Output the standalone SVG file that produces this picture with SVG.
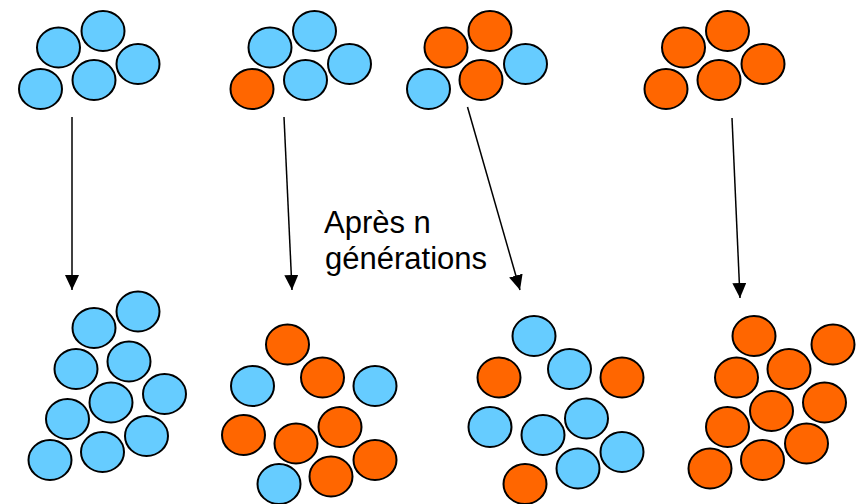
<svg xmlns="http://www.w3.org/2000/svg" width="860" height="504" viewBox="0 0 860 504">
<style>
.b{fill:#66CCFF;stroke:#000;stroke-width:2}
.o{fill:#FF6600;stroke:#000;stroke-width:2}
.arr{stroke:#000;stroke-width:1.5;fill:none;marker-end:url(#ah)}
.lbl{font-family:"Liberation Sans",Arial,sans-serif;font-size:31px;fill:#000}
</style>
<defs>
<marker id="ah" viewBox="0 0 15 14" refX="15" refY="7" markerWidth="15" markerHeight="14" orient="auto" markerUnits="userSpaceOnUse">
<path d="M0,0 L15,7 L0,14 z" fill="#000"/>
</marker>
</defs>
<rect width="860" height="504" fill="#fff"/>
<g id="top1">
<ellipse class="b" cx="40.5" cy="89" rx="21.5" ry="20"/>
<ellipse class="b" cx="58.5" cy="47.5" rx="21.5" ry="20"/>
<ellipse class="b" cx="103" cy="31" rx="21.5" ry="20"/>
<ellipse class="b" cx="94" cy="80" rx="21.5" ry="20"/>
<ellipse class="b" cx="138" cy="64" rx="21.5" ry="20"/>
</g>
<g id="top2">
<ellipse class="o" cx="252" cy="89" rx="21.5" ry="20"/>
<ellipse class="b" cx="270" cy="47.5" rx="21.5" ry="20"/>
<ellipse class="b" cx="314.5" cy="31" rx="21.5" ry="20"/>
<ellipse class="b" cx="305.5" cy="80" rx="21.5" ry="20"/>
<ellipse class="b" cx="349.5" cy="64" rx="21.5" ry="20"/>
</g>
<g id="top3">
<ellipse class="b" cx="428.5" cy="89" rx="21.5" ry="20"/>
<ellipse class="o" cx="446" cy="47.5" rx="21.5" ry="20"/>
<ellipse class="o" cx="490" cy="31" rx="21.5" ry="20"/>
<ellipse class="o" cx="481" cy="80" rx="21.5" ry="20"/>
<ellipse class="b" cx="525.5" cy="64" rx="21.5" ry="20"/>
</g>
<g id="top4">
<ellipse class="o" cx="666" cy="89" rx="21.5" ry="20"/>
<ellipse class="o" cx="683.5" cy="47.5" rx="21.5" ry="20"/>
<ellipse class="o" cx="727.5" cy="31" rx="21.5" ry="20"/>
<ellipse class="o" cx="719" cy="80" rx="21.5" ry="20"/>
<ellipse class="o" cx="763" cy="64" rx="21.5" ry="20"/>
</g>
<g id="bottom1">
<ellipse class="b" cx="138" cy="311.5" rx="21.5" ry="20"/>
<ellipse class="b" cx="94" cy="328" rx="21.5" ry="20"/>
<ellipse class="b" cx="76" cy="369" rx="21.5" ry="20"/>
<ellipse class="b" cx="129" cy="361.5" rx="21.5" ry="20"/>
<ellipse class="b" cx="164.5" cy="394" rx="21.5" ry="20"/>
<ellipse class="b" cx="111" cy="402.5" rx="21.5" ry="20"/>
<ellipse class="b" cx="67.5" cy="419" rx="21.5" ry="20"/>
<ellipse class="b" cx="146.5" cy="436" rx="21.5" ry="20"/>
<ellipse class="b" cx="102.5" cy="452" rx="21.5" ry="20"/>
<ellipse class="b" cx="50" cy="460" rx="21.5" ry="20"/>
</g>
<g id="bottom2">
<ellipse class="o" cx="287.5" cy="344.5" rx="21.5" ry="20"/>
<ellipse class="o" cx="322.5" cy="377.5" rx="21.5" ry="20"/>
<ellipse class="b" cx="252.5" cy="386" rx="21.5" ry="20"/>
<ellipse class="b" cx="375" cy="386" rx="21.5" ry="20"/>
<ellipse class="o" cx="340" cy="427" rx="21.5" ry="20"/>
<ellipse class="o" cx="243.5" cy="435" rx="21.5" ry="20"/>
<ellipse class="o" cx="296" cy="443.5" rx="21.5" ry="20"/>
<ellipse class="o" cx="375" cy="460" rx="21.5" ry="20"/>
<ellipse class="o" cx="331" cy="476.5" rx="21.5" ry="20"/>
<ellipse class="b" cx="279" cy="484" rx="21.5" ry="20"/>
</g>
<g id="bottom3">
<ellipse class="b" cx="534" cy="336" rx="21.5" ry="20"/>
<ellipse class="o" cx="499" cy="377.5" rx="21.5" ry="20"/>
<ellipse class="b" cx="569.5" cy="369" rx="21.5" ry="20"/>
<ellipse class="o" cx="622" cy="377.5" rx="21.5" ry="20"/>
<ellipse class="b" cx="490" cy="427" rx="21.5" ry="20"/>
<ellipse class="b" cx="543" cy="435" rx="21.5" ry="20"/>
<ellipse class="b" cx="586.5" cy="418.5" rx="21.5" ry="20"/>
<ellipse class="b" cx="622" cy="452" rx="21.5" ry="20"/>
<ellipse class="b" cx="578" cy="468.5" rx="21.5" ry="20"/>
<ellipse class="o" cx="525" cy="484" rx="21.5" ry="20"/>
</g>
<g id="bottom4">
<ellipse class="o" cx="754" cy="336" rx="21.5" ry="20"/>
<ellipse class="o" cx="833" cy="344.5" rx="21.5" ry="20"/>
<ellipse class="o" cx="736.5" cy="377.5" rx="21.5" ry="20"/>
<ellipse class="o" cx="789" cy="369" rx="21.5" ry="20"/>
<ellipse class="o" cx="771.5" cy="411" rx="21.5" ry="20"/>
<ellipse class="o" cx="824.5" cy="402.5" rx="21.5" ry="20"/>
<ellipse class="o" cx="727.5" cy="427" rx="21.5" ry="20"/>
<ellipse class="o" cx="806.5" cy="443.5" rx="21.5" ry="20"/>
<ellipse class="o" cx="762.5" cy="460" rx="21.5" ry="20"/>
<ellipse class="o" cx="710" cy="468.5" rx="21.5" ry="20"/>
</g>
<g id="connectors">
<line class="arr" x1="72" y1="117" x2="72" y2="290"/>
<line class="arr" x1="284" y1="117" x2="292" y2="290"/>
<line class="arr" x1="467.5" y1="107" x2="520" y2="290"/>
<line class="arr" x1="732" y1="118" x2="740" y2="298"/>
</g>
<g id="label">
<text class="lbl" x="324" y="232.5">Après n</text>
<text class="lbl" x="325" y="268.5">générations</text>
</g>
</svg>
